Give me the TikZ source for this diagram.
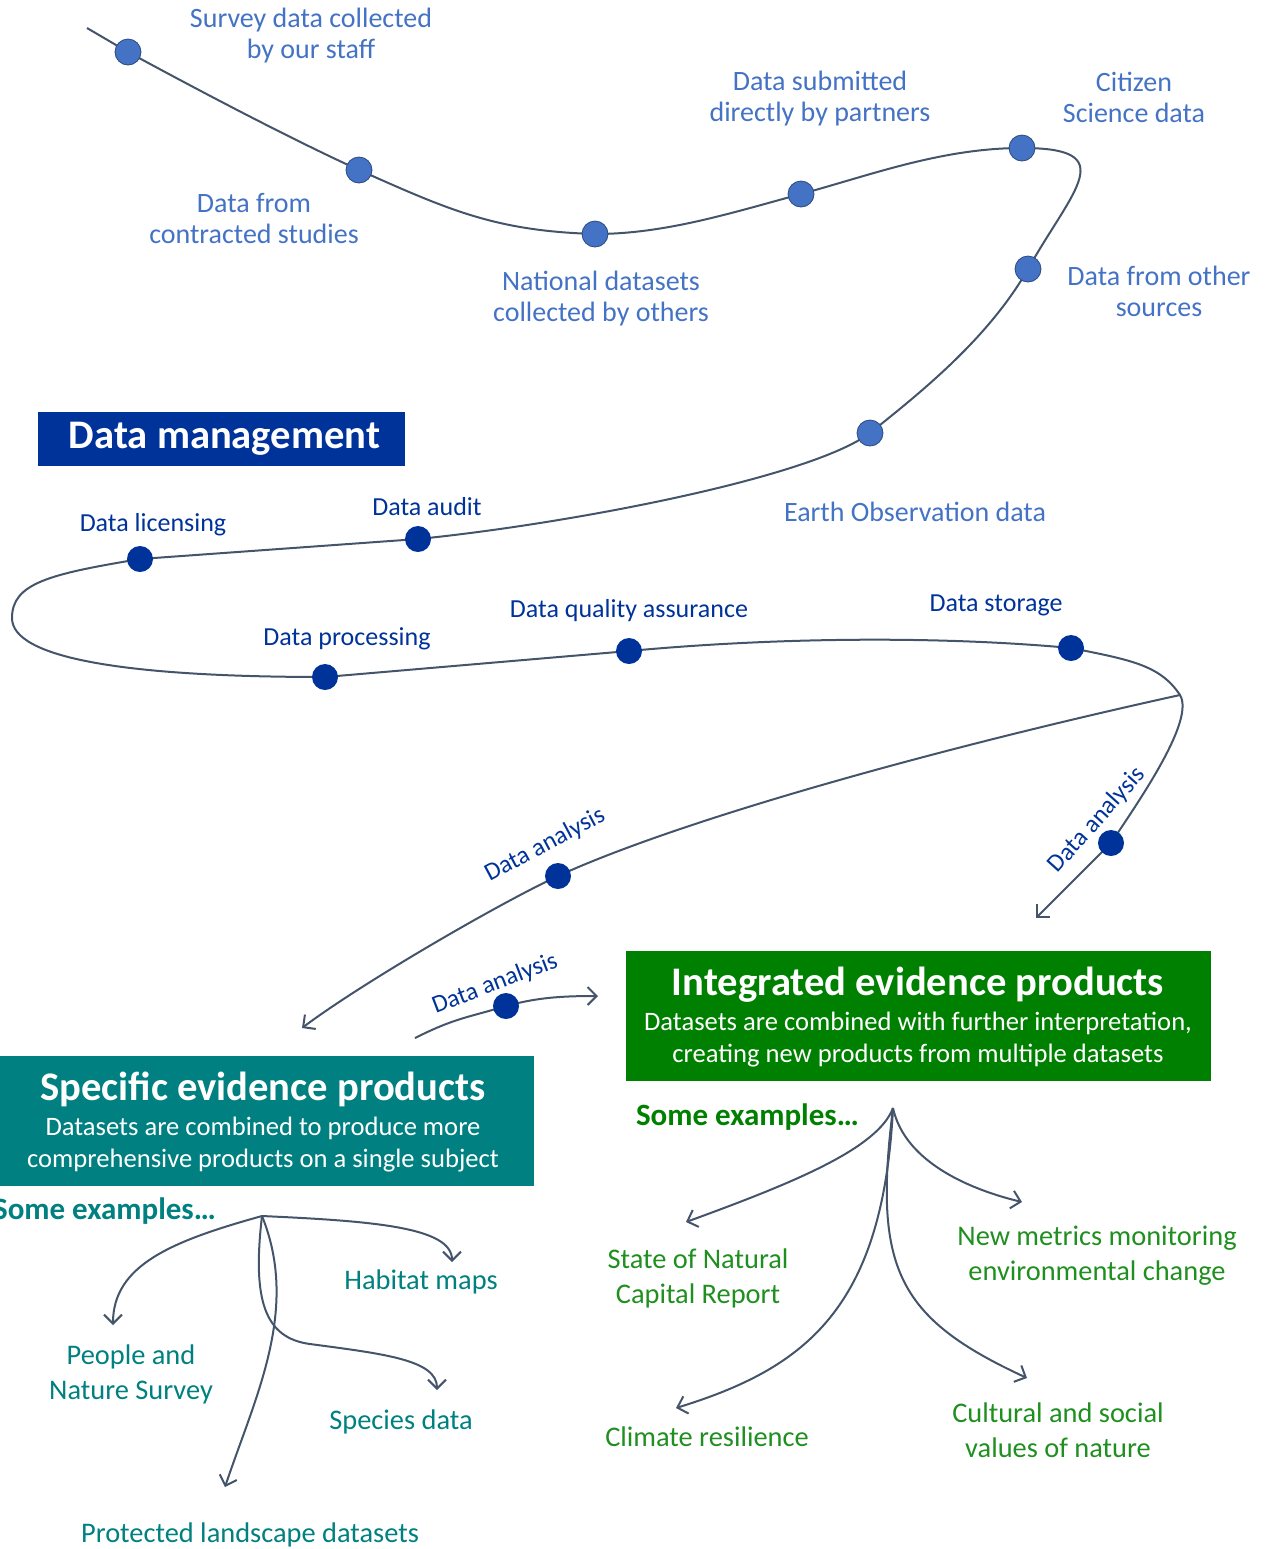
\documentclass[tikz,border=0pt]{standalone}
\usepackage{fontspec}
\setmainfont{Carlito}
\usetikzlibrary{arrows.meta}
\usetikzlibrary{positioning}
\usetikzlibrary{backgrounds}

\definecolor{bleuclair}{HTML}{4472C4}
\definecolor{bleufonce}{HTML}{003399}
\definecolor{trait}{HTML}{44546A}
\definecolor{sarcelle}{HTML}{008080}
\definecolor{vert}{HTML}{008000}
\definecolor{vertclair}{HTML}{1F8F1F}

\tikzset{
  source/.style={circle,fill=bleuclair,draw=bleuclair!65!black,thin,minimum size=13pt,inner sep=0pt},
  etape/.style={circle,fill=bleufonce,minimum size=13pt,inner sep=0pt},
  chemin/.style={draw=trait,line width=1pt},
  fleche/.style={chemin,-{Straight Barb[length=4.5pt,width=9pt]}},
  txtsource/.style={text=bleuclair,align=center,font=\fontsize{14}{15.5}\selectfont},
  txtetape/.style={text=bleufonce,font=\fontsize{13}{15}\selectfont},
  txtanalyse/.style={text=bleufonce,font=\fontsize{12.5}{14}\selectfont},
  boite/.style={fill=#1,inner sep=0pt},
  titre/.style={text=white,font=\fontsize{20.3}{24}\selectfont\bfseries},
  soustitre/.style={text=white,align=center,font=\fontsize{13.3}{16}\selectfont},
  exemple/.style={text=#1,align=center,font=\fontsize{14.2}{17.5}\selectfont},
  quelques/.style={text=#1,font=\fontsize{15.5}{18}\selectfont\bfseries},
}

\begin{document}
\begin{tikzpicture}[x=0.5pt,y=-0.5pt]
\useasboundingbox (0,0) rectangle (1268,1549);

% Les sources de donnees
\foreach \n/\x/\y in {S1/128/52,S2/359/170,S3/595/234,S4/801/194,S5/1022/148,S6/1028/269,S7/870/433}
  \node[source] (\n) at (\x,\y) {};
\node[txtsource] (LS1) at (311,36) {Survey data collected\\by our staff};
\node[txtsource] (LS2) at (254,218) {Data from\\contracted studies};
\node[txtsource] (LS3) at (601,299) {National datasets\\collected by others};
\node[txtsource] (LS4) at (820,99) {Data submitted\\directly by partners};
\node[txtsource] (LS5) at (1134,97) {Citizen\\Science data};
\node[txtsource] (LS6) at (1159,291) {Data from other\\sources};
\node[txtsource] (LS7) at (915,512) {Earth Observation data};

% Gestion des donnees
\node[boite=bleufonce,titre,minimum width=183.5pt,minimum height=27pt] (DM) at (221.5,439) {\hspace{3pt}Data management};
\foreach \n/\x/\y in {M1/418/539,M2/140/559,M3/325/677,M4/629/651,M5/1071/648,A1/1111/843,A2/558/876,A3/506/1006}
  \node[etape] (\n) at (\x,\y) {};
\foreach \t/\x/\y in {Data audit/427/507,Data licensing/153/525,Data processing/347/639,Data quality assurance/629/611,Data storage/996/605}
  \node[txtetape] (L\x) at (\x,\y) {\t};
\node[txtanalyse,rotate=28] (LA2) at (545,845) {Data analysis};
\node[txtanalyse,rotate=48] (LA1) at (1097,820) {Data analysis};
\node[txtanalyse,rotate=21] (LA3) at (495,984) {Data analysis};

% Le chemin
\coordinate (S0) at (87,28);
\coordinate (G) at (12,618);
\coordinate (J) at (1180,695);
\coordinate (E1) at (1036,918);
\coordinate (E2) at (302,1028);
\coordinate (D3) at (415,1038);
\coordinate (E3) at (598,996);
\begin{scope}[on background layer]
\draw[chemin] (S0) -- (S1.center)
  .. controls +(70,38) and +(-70,-32) .. (S2.center)
  .. controls +(90,40) and +(-100,-3) .. (S3.center)
  .. controls +(70,0) and +(-70,19) .. (S4.center)
  .. controls +(70,-19) and +(-80,0) .. (S5.center)
  .. controls +(100,0) and +(45,-80) .. (S6.center)
  .. controls +(-40,70) and +(50,-40) .. (S7.center)
  .. controls +(-60,45) and +(150,-15) .. (M1.center)
  -- (M2.center)
  .. controls +(-90,15) and +(0,-35) .. (G)
  .. controls +(0,40) and +(-200,0) .. (M3.center)
  -- (M4.center)
  .. controls +(150,-14) and +(-130,-12) .. (M5.center)
  .. controls +(60,12) and +(-20,-30) .. (J)
  .. controls +(15,25) and +(30,-45) .. (A1.center);
\draw[fleche] (A1.center) -- (E1);
\draw[fleche] (J) .. controls +(-250,55) and +(120,-55) .. (A2.center)
  .. controls +(-60,28) and +(60,-45) .. (E2);
\draw[fleche] (D3) .. controls +(40,-20) and +(-40,12) .. (A3.center)
  .. controls +(30,-8) and +(-40,0) .. (E3);
\end{scope}

% Produits specifiques
\node[boite=sarcelle,minimum width=267pt,minimum height=65pt] (SP) at (267,1121) {};
\node[titre] (SPt) at (263,1089) {Specific evidence products};
\node[soustitre] (SPs) at (263,1145) {Datasets are combined to produce more\\comprehensive products on a single subject};
\node[quelques=sarcelle,anchor=east] (EX1) at (223,1211) {Some examples…};
\coordinate (T1) at (262,1216);
\coordinate (F1) at (113,1325);
\coordinate (F2) at (452,1262);
\coordinate (F3) at (437,1390);
\coordinate (F4) at (225,1487);
\draw[fleche] (T1) .. controls +(-90,25) and +(0,-60) .. (F1);
\draw[fleche] (T1) .. controls +(110,5) and +(0,-35) .. (F2);
\draw[fleche] (T1) .. controls +(-10,85) and +(-45,-6) .. (310,1344) .. controls +(75,10) and +(0,-30) .. (F3);
\draw[fleche] (T1) .. controls +(38,94) and +(30,-90) .. (F4);
\node[exemple=sarcelle] (P1) at (131,1374) {People and\\Nature Survey};
\node[exemple=sarcelle] (P2) at (421,1282) {Habitat maps};
\node[exemple=sarcelle] (P3) at (401,1422) {Species data};
\node[exemple=sarcelle] (P4) at (250,1535) {Protected landscape datasets};

% Produits integres
\node[boite=vert,minimum width=292.5pt,minimum height=65pt] (IN) at (918.5,1016) {};
\node[titre] (INt) at (918,985) {Integrated evidence products};
\node[soustitre] (INs) at (918,1040) {Datasets are combined with further interpretation,\\creating new products from multiple datasets};
\node[quelques=vert,anchor=west] (EX2) at (629,1117) {Some examples…};
\coordinate (T2) at (893,1108);
\coordinate (G1) at (686,1222);
\coordinate (G2) at (1022,1202);
\coordinate (G3) at (676,1408);
\coordinate (G4) at (1027,1378);
\draw[fleche] (T2) .. controls +(-15,40) and +(110,-40) .. (G1);
\draw[fleche] (T2) .. controls +(12,55) and +(-50,-12) .. (G2);
\draw[fleche] (T2) .. controls +(-10,200) and +(130,-40) .. (G3);
\draw[fleche] (T2) .. controls +(-20,160) and +(-130,-60) .. (G4);
\node[exemple=vertclair] (Q1) at (698,1278) {State of Natural\\Capital Report};
\node[exemple=vertclair] (Q2) at (1097,1256) {New metrics monitoring\\environmental change};
\node[exemple=vertclair] (Q3) at (707,1437) {Climate resilience};
\node[exemple=vertclair] (Q4) at (1058,1430) {Cultural and social\\values of nature};
\end{tikzpicture}
\end{document}
